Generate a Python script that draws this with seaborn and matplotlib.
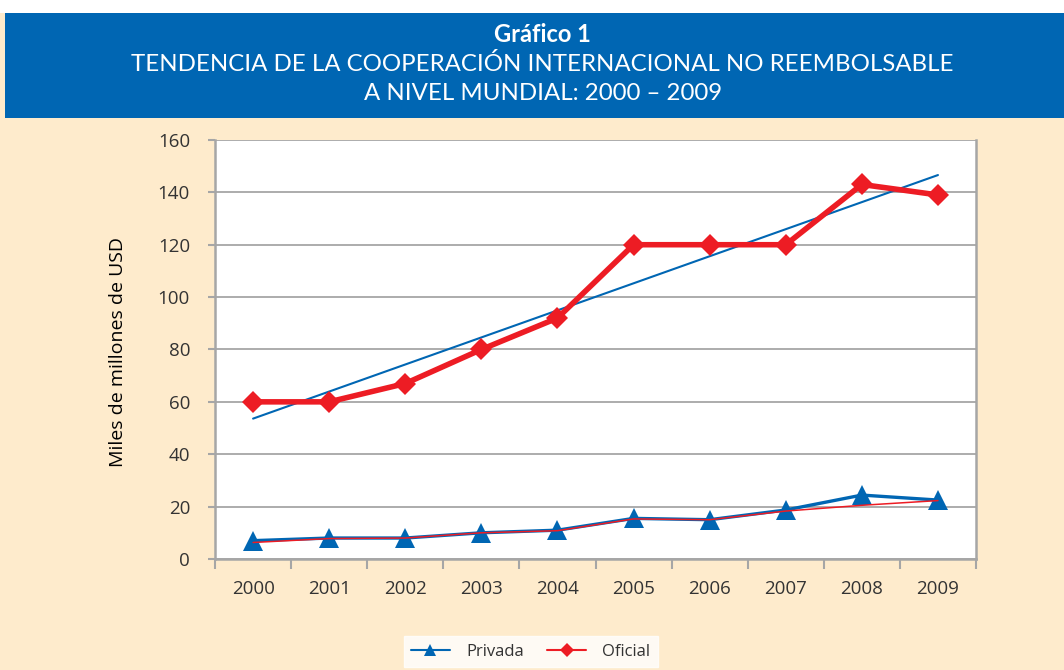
import matplotlib
matplotlib.use('Agg')
import matplotlib.pyplot as plt
from matplotlib.patches import Rectangle
from matplotlib.lines import Line2D
import numpy as np
import pandas as pd
import seaborn as sns

# Data
years = ['2000', '2001', '2002', '2003', '2004', '2005', '2006', '2007', '2008', '2009']
oficial = [60, 60, 67, 80, 92, 120, 120, 120, 143, 139]
privada = [7, 8, 8, 10, 11, 15.5, 15, 18.7, 24.4, 22.5]
privada_trend = [6.3, 7.8, 8, 10, 10.8, 15.3, 15, 18.3, 20.5, 22.3]

CREAM = '#FEEBCC'
BLUE = '#0066B3'
RED = '#ED1C24'
GRID = '#A6A6A6'

sns.set_theme(style='white')
plt.rcParams['font.family'] = ['Open Sans', 'DejaVu Sans']

idx = np.arange(len(years))
df = pd.DataFrame({'x': idx, 'Oficial': oficial, 'Privada': privada, 'trend': privada_trend})

fig = plt.figure(figsize=(10.64, 6.70), dpi=100, facecolor=CREAM)
ax = fig.add_axes([0.2021, 0.1657, 0.7152, 0.6254])
ax.set_facecolor('white')

# header band
fig.patches.append(Rectangle((0, 1 - 13 / 670), 1, 13 / 670, transform=fig.transFigure,
                             facecolor='white', edgecolor='none', zorder=0))
fig.patches.append(Rectangle((5 / 1064, 1 - 118 / 670), 1, 105 / 670, transform=fig.transFigure,
                             facecolor=BLUE, edgecolor='none', zorder=0))
fig.text(0.51, 0.948, 'Gráfico 1', color='white', fontsize=17, fontweight='bold',
         ha='center', va='center', family=['Lato', 'DejaVu Sans'])
fig.text(0.51, 0.905, 'TENDENCIA DE LA COOPERACIÓN INTERNACIONAL NO REEMBOLSABLE', color='white',
         fontsize=17.3, ha='center', va='center', family=['Lato', 'DejaVu Sans'])
fig.text(0.51, 0.861, 'A NIVEL MUNDIAL: 2000 – 2009', color='white',
         fontsize=17.3, ha='center', va='center', family=['Lato', 'DejaVu Sans'])

# linear trend of Oficial (thin blue)
coef = np.polyfit(idx, oficial, 1)
df['oficial_fit'] = np.polyval(coef, idx)
sns.lineplot(data=df, x='x', y='oficial_fit', color=BLUE, linewidth=1.5, ax=ax, zorder=3)

sns.lineplot(data=df, x='x', y='Privada', color=BLUE, linewidth=2.4, marker='^',
             markersize=14, markeredgewidth=0, ax=ax, zorder=4)
sns.lineplot(data=df, x='x', y='trend', color=RED, linewidth=1.1, ax=ax, zorder=5)
sns.lineplot(data=df, x='x', y='Oficial', color=RED, linewidth=4, marker='D',
             markersize=11.5, markeredgewidth=0, ax=ax, zorder=6)

ax.set_xlim(-0.5, 9.5)
ax.set_ylim(0, 160)
ax.set_yticks(range(0, 161, 20))
ax.yaxis.grid(True, color=GRID, linewidth=1.3)
ax.set_axisbelow(True)

ax.set_xticks(np.arange(-0.5, 10, 1))
ax.set_xticklabels([])
ax.set_xticks(idx, minor=True)
ax.set_xticklabels(years, minor=True)
ax.tick_params(axis='x', which='major', direction='out', length=7, width=1.5, color=GRID, bottom=True)
ax.tick_params(axis='x', which='minor', length=0, pad=15, labelsize=13.5, labelcolor='#333333')
ax.tick_params(axis='y', direction='out', length=5, width=1.5, color=GRID, left=True,
               labelsize=13.5, labelcolor='#333333', pad=13)

for s in ['left', 'bottom', 'right']:
    ax.spines[s].set_color(GRID)
    ax.spines[s].set_linewidth(1.8)
ax.spines['top'].set_visible(False)

ax.set_xlabel('')
ax.set_ylabel('')
fig.text(0.111, 0.475, 'Miles de millones de USD', rotation=90, ha='center', va='center',
         fontsize=14, color='black', fontweight='medium')

handles = [Line2D([], [], color=BLUE, linewidth=1.5, marker='^', markersize=9, markeredgewidth=0),
           Line2D([], [], color=RED, linewidth=1.5, marker='D', markersize=7, markeredgewidth=0)]
leg = fig.legend(handles, ['Privada', 'Oficial'], loc='center', bbox_to_anchor=(0.499, 0.0275),
                 ncol=2, frameon=True, fancybox=False, fontsize=12, handlelength=2.3,
                 columnspacing=1.4, borderpad=0.45, handletextpad=1.0)
leg.get_frame().set_facecolor('white')
leg.get_frame().set_edgecolor('white')
for t in leg.get_texts():
    t.set_color('#333333')

fig.savefig('out.png', dpi=100, facecolor=CREAM)
